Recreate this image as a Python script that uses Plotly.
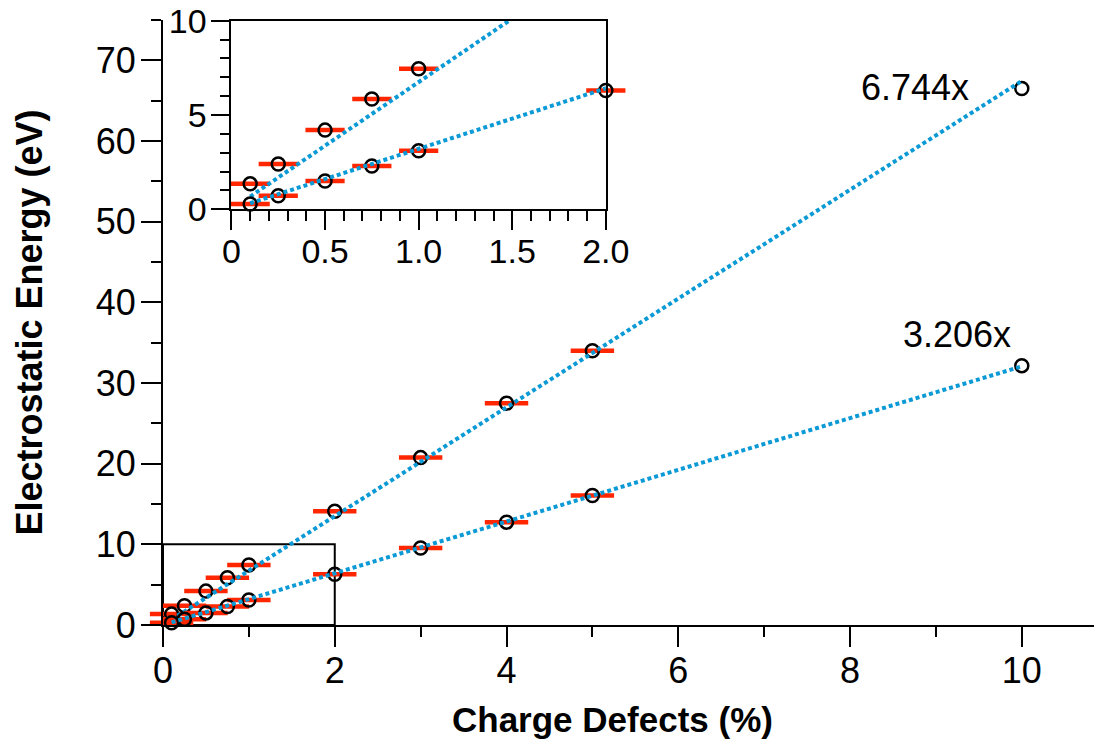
import plotly.graph_objects as go

# ---- data ----
x_vals = [0.1, 0.25, 0.5, 0.75, 1.0, 2.0, 3.0, 4.0, 5.0, 10.0]
upper_y = [1.35, 2.4, 4.2, 5.85, 7.45, 14.1, 20.75, 27.5, 34.0, 66.5]
lower_y = [0.28, 0.72, 1.5, 2.3, 3.1, 6.3, 9.55, 12.75, 16.05, 32.15]
slopes = [6.744, 3.206]
slope_labels = ["6.744x", "3.206x"]
label_pos_x = [8.76, 9.24]
label_pos_y = [66.6, 36.0]
fit_x = [0.1, 10.0]
red_max_x = 5.0
main_xticks = [0, 2, 4, 6, 8, 10]
main_yticks = [0, 10, 20, 30, 40, 50, 60, 70]
inset_xticks = [0, 0.5, 1.0, 1.5, 2.0]
inset_xticklabels = ["0", "0.5", "1.0", "1.5", "2.0"]
inset_yticks = [0, 5, 10]
inset_xrange = [0, 2.0]
inset_yrange = [0, 10]

FONT = "Liberation Sans, Arial, Helvetica, sans-serif"
BLUE = "#0b9ad6"
RED = "rgb(255,38,0)"

fig = go.Figure()

series = [upper_y, lower_y]


def add_series(xs, ys, slope, xa, ya, xmax, ymax):
    # red horizontal bars
    rx = [x for x, y in zip(xs, ys) if x <= red_max_x and x <= xmax and y <= ymax]
    ry = [y for x, y in zip(xs, ys) if x <= red_max_x and x <= xmax and y <= ymax]
    fig.add_trace(go.Scatter(
        x=rx, y=ry, mode="markers", xaxis=xa, yaxis=ya, cliponaxis=False,
        marker=dict(symbol="line-ew", size=31 if xa == "x" else 28,
                    line=dict(color=RED, width=4.5)),
        showlegend=False, hoverinfo="skip"))
    # open circles
    cx = [x for x, y in zip(xs, ys) if x <= xmax and y <= ymax]
    cy = [y for x, y in zip(xs, ys) if x <= xmax and y <= ymax]
    fig.add_trace(go.Scatter(
        x=cx, y=cy, mode="markers", xaxis=xa, yaxis=ya, cliponaxis=False,
        marker=dict(symbol="circle-open", size=13, color="black",
                    line=dict(color="black", width=2.5)),
        showlegend=False))
    # dotted fit line
    lx = list(fit_x)
    ly = [slope * v for v in lx]
    fig.add_trace(go.Scatter(
        x=lx, y=ly, mode="lines", xaxis=xa, yaxis=ya, cliponaxis=True,
        line=dict(color=BLUE, width=4, dash="4px,3px"),
        showlegend=False, hoverinfo="skip"))


for ys, s in zip(series, slopes):
    add_series(x_vals, ys, s, "x", "y", 1e9, 1e9)
for ys, s in zip(series, slopes):
    add_series(x_vals, ys, s, "x2", "y2", inset_xrange[1], inset_yrange[1])

axis_common = dict(
    showline=True, linecolor="black", linewidth=2, showgrid=False,
    zeroline=False, ticks="outside", tickcolor="black", tickwidth=2,
    ticklen=20, ticklabeloverflow="allow",
)

fig.update_layout(
    width=1094, height=738,
    margin=dict(l=155, r=0, t=12, b=121, autoexpand=False),
    showlegend=False,
    paper_bgcolor="white", plot_bgcolor="white",
    font=dict(family=FONT, color="black", size=36),
    xaxis=dict(**axis_common, range=[0, 10.934], tickvals=main_xticks,
               tickfont=dict(size=36), ticklabelstandoff=-7,
               minor=dict(dtick=1, ticks="outside", ticklen=10,
                          tickwidth=2, tickcolor="black")),
    yaxis=dict(**axis_common, range=[0, 75], tickvals=main_yticks,
               tickfont=dict(size=36), ticklabelstandoff=-2,
               minor=dict(dtick=5, ticks="outside", ticklen=10,
                          tickwidth=2, tickcolor="black")),
    xaxis2=dict(**dict(axis_common, ticklen=19), mirror=True,
                domain=[0.0729, 0.4716], anchor="y2",
                range=inset_xrange, tickvals=inset_xticks,
                ticktext=inset_xticklabels, tickfont=dict(size=34),
                ticklabelstandoff=-8,
                minor=dict(dtick=0.1, ticks="outside", ticklen=10,
                           tickwidth=2, tickcolor="black")),
    yaxis2=dict(**dict(axis_common, ticklen=18), mirror=True,
                domain=[0.6871, 0.9988], anchor="x2",
                range=inset_yrange, tickvals=inset_yticks,
                tickfont=dict(size=34), ticklabelstandoff=-2,
                minor=dict(dtick=1, ticks="outside", ticklen=9,
                           tickwidth=2, tickcolor="black")),
    shapes=[dict(type="rect", xref="x", yref="y", x0=0, x1=inset_xrange[1],
                 y0=0, y1=inset_yrange[1], line=dict(color="black", width=2),
                 layer="below")],
)

for t, lx, ly in zip(slope_labels, label_pos_x, label_pos_y):
    fig.add_annotation(x=lx, y=ly, xref="x", yref="y", text=t, showarrow=False,
                       font=dict(size=36, family=FONT), xanchor="center",
                       yanchor="middle")

fig.add_annotation(x=0.479, y=-0.1565, xref="paper", yref="paper",
                   text="<b>Charge Defects (%)</b>", showarrow=False,
                   font=dict(size=35, family=FONT), xanchor="center",
                   yanchor="middle")
fig.add_annotation(x=-0.1425, y=0.5002, xref="paper", yref="paper",
                   text="<b>Electrostatic Energy (eV)</b>", showarrow=False,
                   textangle=-90, font=dict(size=36, family=FONT),
                   xanchor="center", yanchor="middle")

fig.write_html("out.html")
